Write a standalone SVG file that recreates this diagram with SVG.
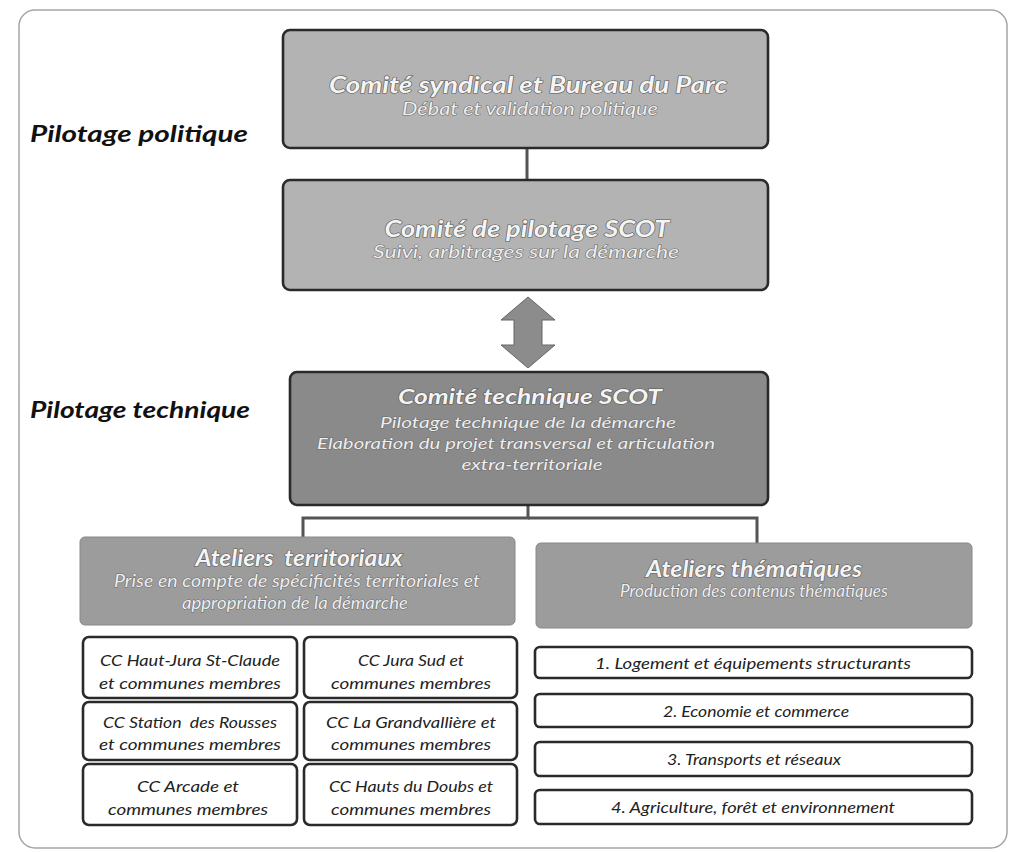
<svg xmlns="http://www.w3.org/2000/svg" width="1011" height="852" viewBox="0 0 1011 852">
<style>
text{font-family:Lato,"Liberation Sans","DejaVu Sans",sans-serif;font-style:italic;text-anchor:middle;dominant-baseline:central}
.frame{fill:#fff;stroke:#a5a5a5;stroke-width:1.5}
.box{stroke:#2a2a2a;stroke-width:2.6}
.lt{fill:#b3b3b3}
.dk{fill:#8a8a8a}
.hd{fill:#9c9c9c;stroke:#888;stroke-width:1}
.wh{fill:#fff}
.t{font-weight:bold;font-size:23px;fill:#f4f4f4;stroke:#5a5a5a;stroke-width:1.2;paint-order:stroke}
.s{font-size:17px;fill:#eeeeee;stroke:#6a6a6a;stroke-width:1;paint-order:stroke}
.t2{font-size:20px}
.s2{font-size:16px}
.c{font-size:16px;fill:#222}
.lab{font-weight:bold;font-size:22px;fill:#111;text-anchor:start}
.con{fill:none;stroke:#555;stroke-width:3}
.arr{fill:#8c8c8c;stroke:#666;stroke-width:1}
</style>
<rect class="frame" x="19" y="10" width="988" height="838" rx="16"/>
<text class="lab" x="30" y="133" textLength="218" lengthAdjust="spacingAndGlyphs">Pilotage politique</text>
<text class="lab" x="30" y="409" textLength="220" lengthAdjust="spacingAndGlyphs">Pilotage technique</text>
<g id="connectors">
<line class="con" x1="527" y1="148" x2="527" y2="180"/>
<polyline class="con" points="303,537 303,518 528,518 528,505"/>
<polyline class="con" points="528,518 757,518 757,543"/>
<polygon class="arr" points="528,297 555,320 542,320 542,345 555,345 528,368 501,345 514,345 514,320 501,320"/>
</g>
<g id="comite-syndical">
<rect class="box lt" x="283" y="30" width="485" height="118" rx="7"/>
<text class="t" x="528" y="84" textLength="398" lengthAdjust="spacingAndGlyphs">Comité syndical et Bureau du Parc</text>
<text class="s" x="530" y="108" textLength="256" lengthAdjust="spacingAndGlyphs">Débat et validation politique</text>
</g>
<g id="comite-pilotage">
<rect class="box lt" x="283" y="180" width="485" height="110" rx="7"/>
<text class="t" x="527" y="228" textLength="285" lengthAdjust="spacingAndGlyphs">Comité de pilotage SCOT</text>
<text class="s" x="526" y="251" textLength="306" lengthAdjust="spacingAndGlyphs">Suivi, arbitrages sur la démarche</text>
</g>
<g id="comite-technique">
<rect class="box dk" x="290" y="372" width="478" height="133" rx="7"/>
<text class="t t2" x="530" y="396" textLength="264" lengthAdjust="spacingAndGlyphs">Comité technique SCOT</text>
<text class="s s2" x="528" y="421" textLength="296" lengthAdjust="spacingAndGlyphs">Pilotage technique de la démarche</text>
<text class="s s2" x="516" y="442" textLength="398" lengthAdjust="spacingAndGlyphs">Elaboration du projet transversal et articulation</text>
<text class="s s2" x="532" y="463" textLength="141" lengthAdjust="spacingAndGlyphs">extra-territoriale</text>
</g>
<g id="ateliers-territoriaux">
<rect class="hd" x="80" y="537" width="435" height="88" rx="5"/>
<text class="t" x="299" y="557" xml:space="preserve" textLength="207" lengthAdjust="spacingAndGlyphs">Ateliers  territoriaux</text>
<text class="s" x="297" y="580" textLength="366" lengthAdjust="spacingAndGlyphs">Prise en compte de spécificités territoriales et</text>
<text class="s" x="295" y="602" textLength="226" lengthAdjust="spacingAndGlyphs">appropriation de la démarche</text>
</g>
<g id="ateliers-thematiques">
<rect class="hd" x="536" y="543" width="436" height="85" rx="5"/>
<text class="t" x="754" y="568" textLength="216" lengthAdjust="spacingAndGlyphs">Ateliers thématiques</text>
<text class="s" x="754" y="590" textLength="268" lengthAdjust="spacingAndGlyphs">Production des contenus thématiques</text>
</g>
<g id="cc-haut-jura">
<rect class="box wh" x="83" y="637" width="214" height="61" rx="6"/>
<text class="c" x="190" y="659" textLength="180" lengthAdjust="spacingAndGlyphs">CC Haut-Jura St-Claude</text>
<text class="c" x="190" y="682" textLength="182" lengthAdjust="spacingAndGlyphs">et communes membres</text>
</g>
<g id="cc-jura-sud">
<rect class="box wh" x="304" y="637" width="213" height="61" rx="6"/>
<text class="c" x="411" y="659" textLength="106" lengthAdjust="spacingAndGlyphs">CC Jura Sud et</text>
<text class="c" x="411" y="682" textLength="160" lengthAdjust="spacingAndGlyphs">communes membres</text>
</g>
<g id="cc-station-rousses">
<rect class="box wh" x="83" y="702" width="214" height="58" rx="6"/>
<text class="c" x="190" y="721" xml:space="preserve" textLength="174" lengthAdjust="spacingAndGlyphs">CC Station  des Rousses</text>
<text class="c" x="190" y="743" textLength="182" lengthAdjust="spacingAndGlyphs">et communes membres</text>
</g>
<g id="cc-grandvalliere">
<rect class="box wh" x="304" y="702" width="213" height="58" rx="6"/>
<text class="c" x="411" y="721" textLength="170" lengthAdjust="spacingAndGlyphs">CC La Grandvallière et</text>
<text class="c" x="411" y="743" textLength="160" lengthAdjust="spacingAndGlyphs">communes membres</text>
</g>
<g id="cc-arcade">
<rect class="box wh" x="83" y="764" width="214" height="61" rx="6"/>
<text class="c" x="188" y="785" textLength="102" lengthAdjust="spacingAndGlyphs">CC Arcade et</text>
<text class="c" x="188" y="808" textLength="160" lengthAdjust="spacingAndGlyphs">communes membres</text>
</g>
<g id="cc-hauts-doubs">
<rect class="box wh" x="304" y="764" width="213" height="61" rx="6"/>
<text class="c" x="411" y="785" textLength="164" lengthAdjust="spacingAndGlyphs">CC Hauts du Doubs et</text>
<text class="c" x="411" y="808" textLength="160" lengthAdjust="spacingAndGlyphs">communes membres</text>
</g>
<g id="theme-1">
<rect class="box wh" x="535" y="647" width="437" height="31" rx="5"/>
<text class="c" x="753" y="662" textLength="316" lengthAdjust="spacingAndGlyphs">1. Logement et équipements structurants</text>
</g>
<g id="theme-2">
<rect class="box wh" x="535" y="694" width="437" height="33" rx="5"/>
<text class="c" x="756" y="710" textLength="186" lengthAdjust="spacingAndGlyphs">2. Economie et commerce</text>
</g>
<g id="theme-3">
<rect class="box wh" x="535" y="742" width="437" height="34" rx="5"/>
<text class="c" x="754" y="758" textLength="174" lengthAdjust="spacingAndGlyphs">3. Transports et réseaux</text>
</g>
<g id="theme-4">
<rect class="box wh" x="535" y="790" width="437" height="34" rx="5"/>
<text class="c" x="753" y="806" textLength="284" lengthAdjust="spacingAndGlyphs">4. Agriculture, forêt et environnement</text>
</g>
</svg>
